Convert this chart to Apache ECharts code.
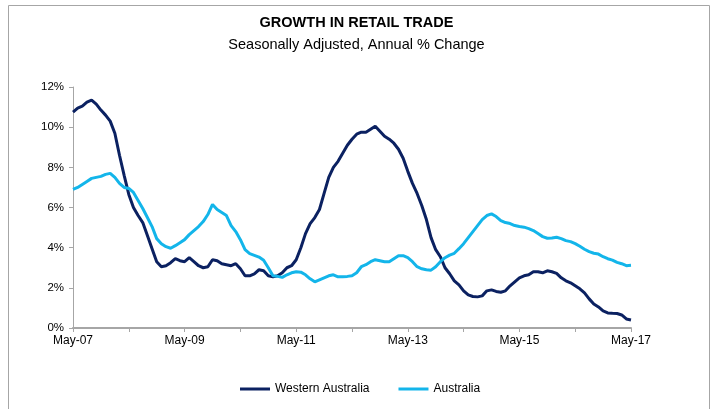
<!DOCTYPE html>
<html>
<head>
<meta charset="utf-8">
<script src="https://cdn.jsdelivr.net/npm/echarts@6/dist/echarts.min.js"></script>
<style>
html,body{margin:0;padding:0;background:#fff;}
#chart{width:713px;height:409px;}
</style>
</head>
<body>
<div id="chart"></div>
<script>
// Monthly categories May-07 .. May-17
const monthNames = ['Jan','Feb','Mar','Apr','May','Jun','Jul','Aug','Sep','Oct','Nov','Dec'];
const categories = [];
for (let k = 0; k <= 120; k++) {
  const m = (4 + k) % 12;
  const y = 7 + Math.floor((4 + k) / 12);
  categories.push(monthNames[m] + '-' + String(y).padStart(2, '0'));
}

const westernAustralia = [
  10.75,10.95,11.05,11.25,11.35,11.15,10.85,10.6,10.3,9.7,
  8.6,7.6,6.65,6.0,5.6,5.25,4.6,3.95,3.3,3.05,
  3.1,3.25,3.45,3.35,3.3,3.5,3.3,3.1,3.0,3.05,
  3.4,3.35,3.2,3.15,3.1,3.2,2.95,2.6,2.6,2.7,
  2.9,2.85,2.6,2.55,2.6,2.75,3.0,3.1,3.4,4.0,
  4.7,5.2,5.5,5.9,6.7,7.5,8.0,8.3,8.7,9.1,
  9.4,9.65,9.75,9.75,9.9,10.05,9.8,9.55,9.4,9.2,
  8.9,8.45,7.8,7.2,6.7,6.1,5.4,4.5,3.9,3.55,
  3.0,2.7,2.35,2.15,1.85,1.65,1.57,1.55,1.6,1.85,
  1.9,1.82,1.78,1.85,2.1,2.3,2.5,2.6,2.65,2.8,
  2.8,2.75,2.85,2.8,2.72,2.5,2.35,2.25,2.1,1.95,
  1.75,1.45,1.2,1.05,0.85,0.75,0.73,0.72,0.65,0.45,
  0.4
];

const australia = [
  6.9,7.0,7.15,7.3,7.45,7.5,7.55,7.65,7.7,7.5,
  7.2,7.0,6.95,6.75,6.35,5.95,5.5,5.05,4.45,4.2,
  4.05,3.97,4.1,4.25,4.4,4.65,4.85,5.05,5.3,5.65,
  6.15,5.9,5.75,5.6,5.1,4.8,4.4,3.9,3.7,3.62,
  3.53,3.37,3.0,2.6,2.57,2.52,2.65,2.75,2.8,2.78,
  2.65,2.45,2.3,2.4,2.5,2.6,2.65,2.55,2.55,2.57,
  2.6,2.75,3.05,3.15,3.3,3.4,3.35,3.3,3.3,3.45,
  3.6,3.6,3.5,3.3,3.05,2.95,2.9,2.88,3.05,3.3,
  3.5,3.63,3.72,3.95,4.2,4.5,4.8,5.1,5.4,5.6,
  5.68,5.55,5.35,5.25,5.2,5.1,5.05,5.02,4.95,4.85,
  4.7,4.55,4.47,4.48,4.52,4.45,4.35,4.3,4.2,4.07,
  3.92,3.8,3.72,3.68,3.55,3.45,3.38,3.27,3.2,3.1,
  3.12
];

const titleText = 'GROWTH IN RETAIL TRADE';
const subtitleText = 'Seasonally Adjusted, Annual % Change';
const seriesNames = ['Western Australia', 'Australia'];

const FONT = 'Liberation Sans, Arial, sans-serif';
const chart = echarts.init(document.getElementById('chart'), null, {renderer: 'canvas'});
chart.setOption({
  backgroundColor: '#fff',
  animation: false,
  textStyle: {fontFamily: FONT},
  graphic: [{
    type: 'rect', silent: true,
    shape: {x: 8.5, y: 5.5, width: 701, height: 430},
    style: {fill: 'none', stroke: '#a6a6a6', lineWidth: 1}
  }],
  title: {
    text: titleText,
    subtext: subtitleText,
    left: 'center',
    top: 10,
    itemGap: 7,
    textStyle: {fontFamily: FONT, fontSize: 14.5, fontWeight: 'bold', color: '#000'},
    subtextStyle: {fontFamily: FONT, fontSize: 14.5, color: '#000'}
  },
  legend: {
    data: seriesNames,
    left: 235,
    top: 378,
    itemWidth: 30,
    itemHeight: 3,
    itemGap: 29,
    icon: 'rect',
    textStyle: {fontFamily: FONT, fontSize: 12, color: '#000'}
  },
  grid: {left: 73, right: 82, top: 87, bottom: 81, containLabel: false},
  xAxis: {
    type: 'category',
    data: categories,
    boundaryGap: false,
    axisLine: {lineStyle: {color: '#a6a6a6', width: 2}},
    axisTick: {show: true, interval: 11, length: 4, lineStyle: {color: '#a6a6a6', width: 1}},
    axisLabel: {interval: 23, color: '#000', fontSize: 12, fontFamily: FONT, margin: 7},
    splitLine: {show: false}
  },
  yAxis: {
    type: 'value',
    min: 0, max: 12, interval: 2,
    axisLine: {show: true, lineStyle: {color: '#a6a6a6', width: 1}},
    axisTick: {show: true, length: 4, lineStyle: {color: '#a6a6a6'}},
    axisLabel: {formatter: '{value}%', color: '#000', fontSize: 11.5, fontFamily: FONT, margin: 9},
    splitLine: {show: false}
  },
  series: [
    {
      name: seriesNames[0], type: 'line', data: westernAustralia,
      showSymbol: false, symbol: 'none',
      lineStyle: {color: '#0b2161', width: 3},
      itemStyle: {color: '#0b2161'}
    },
    {
      name: seriesNames[1], type: 'line', data: australia,
      showSymbol: false, symbol: 'none',
      lineStyle: {color: '#13b5ea', width: 3},
      itemStyle: {color: '#13b5ea'}
    }
  ]
});
</script>
</body>
</html>
